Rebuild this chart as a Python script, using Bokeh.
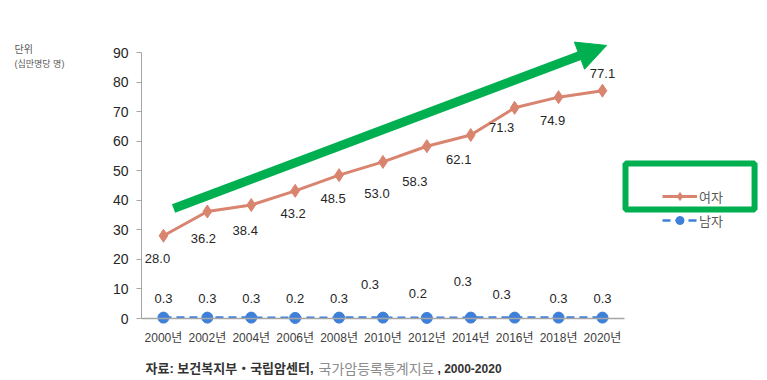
from bokeh.plotting import figure
from bokeh.models import (ColumnDataSource, Label, Legend, LegendItem, Arrow,
                          NormalHead, BoxAnnotation, FixedTicker)
from bokeh.core.properties import value
from bokeh.embed import file_html
from bokeh.resources import INLINE

# ---- data ----
years = [2000, 2002, 2004, 2006, 2008, 2010, 2012, 2014, 2016, 2018, 2020]
tick_labels = ["2000년", "2002년", "2004년", "2006년", "2008년", "2010년",
               "2012년", "2014년", "2016년", "2018년", "2020년"]
women = [28.0, 36.2, 38.4, 43.2, 48.5, 53.0, 58.3, 62.1, 71.3, 74.9, 77.1]
men = [0.3, 0.3, 0.3, 0.2, 0.3, 0.3, 0.2, 0.3, 0.3, 0.3, 0.3]
y_ticks = [0, 10, 20, 30, 40, 50, 60, 70, 80, 90]

# ---- label placement (screen px) ----
women_dx = [-6, -4, -6, -2, -6, -6, -12, -12, -13, -6, 0]
women_dy = [23, 27, 25, 23, 23, 32, 35, 25, 20, 23, -17]
men_dx = [0, 0, 0, 0, 0, -13, -9, -8, -13, 0, 0]
men_dy = [-19, -19, -19, -19, -19, -33, -24, -36, -23, -19, -19]

FONT = "'Liberation Sans', 'Noto Sans CJK KR', sans-serif"
WOMEN_C = "#D9846F"
MEN_C = "#3D7FD9"
GREEN = "#00B050"
AXIS_C = "#A6A6A6"

W, H = 765, 378
X_LO, X_HI = 1999, 2021
X_START, X_END = 1992.576, 2027.428
Y_START, Y_END = -20.30, 107.61

src = ColumnDataSource(dict(
    x=years, women=women, men=men,
    wl=[f"{v:.1f}" for v in women], ml=[f"{v:.1f}" for v in men],
    wdx=women_dx, wdy=women_dy, mdx=men_dx, mdy=men_dy,
))

p = figure(width=W, height=H, x_range=(X_START, X_END), y_range=(Y_START, Y_END),
           output_backend="svg", toolbar_location=None,
           min_border_left=0, min_border_right=0,
           min_border_top=0, min_border_bottom=0)
p.outline_line_color = None
p.xgrid.visible = False
p.ygrid.visible = False

# axes (fixed inside the frame)
p.xaxis.fixed_location = 0
p.xaxis.bounds = (X_LO, X_HI)
p.xaxis.ticker = FixedTicker(ticks=years)
p.xaxis.major_label_overrides = {y: t for y, t in zip(years, tick_labels)}
p.xaxis.major_tick_line_color = None
p.xaxis.minor_tick_line_color = None
p.xaxis.axis_line_color = AXIS_C
p.xaxis.axis_line_width = 1.5
p.xaxis.major_label_standoff = 6
p.xaxis.major_label_text_font = FONT
p.xaxis.major_label_text_font_size = "12px"
p.xaxis.major_label_text_color = "#404040"

p.yaxis.fixed_location = X_LO
p.yaxis.bounds = (0, 90)
p.yaxis.ticker = FixedTicker(ticks=y_ticks)
p.yaxis.axis_line_color = AXIS_C
p.yaxis.axis_line_width = 1
p.yaxis.major_tick_line_color = AXIS_C
p.yaxis.major_tick_out = 5
p.yaxis.major_tick_in = 0
p.yaxis.minor_tick_line_color = None
p.yaxis.major_label_standoff = 8
p.yaxis.major_label_text_font = FONT
p.yaxis.major_label_text_font_size = "14px"
p.yaxis.major_label_text_color = "#262626"

# series
wl = p.line("x", "women", source=src, line_color=WOMEN_C, line_width=3)
ws = p.scatter("x", "women", source=src, marker="diamond", size=13,
               fill_color=WOMEN_C, line_color=WOMEN_C)
ml = p.line("x", "men", source=src, line_color=MEN_C, line_width=2.5,
            line_dash="8 5")
ms = p.scatter("x", "men", source=src, marker="circle", size=11,
               fill_color=MEN_C, line_color=MEN_C)

# data labels
p.text("x", "women", text="wl", source=src, x_offset="wdx", y_offset="wdy",
       text_align="center", text_baseline="middle", text_font=value(FONT),
       text_font_size="13px", text_color="#262626")
p.text("x", "men", text="ml", source=src, x_offset="mdx", y_offset="mdy",
       text_align="center", text_baseline="middle", text_font=value(FONT),
       text_font_size="13px", text_color="#262626")

# green trend arrow
p.add_layout(Arrow(end=NormalHead(size=29, fill_color=GREEN, line_color=GREEN),
                   x_start=2000.46, y_start=37.2, x_end=2020.19, y_end=92.4,
                   line_color=GREEN, line_width=9, line_cap="butt"))

# green highlight box around the legend entry
p.add_layout(BoxAnnotation(left=2021.05, right=2026.93, bottom=36.89, top=52.45,
                           fill_alpha=0, line_color=GREEN, line_width=6,
                           line_alpha=1))

legend = Legend(items=[LegendItem(label="여자", renderers=[wl, ws]),
                       LegendItem(label="남자", renderers=[ml, ms])],
                location=(662, 148), glyph_width=35, glyph_height=20,
                label_height=20, spacing=4, padding=0, margin=0,
                label_standoff=2, border_line_color=None,
                background_fill_alpha=0, label_text_font=FONT,
                label_text_font_size="13px", label_text_color="#595959")
p.add_layout(legend)

# unit title (left of the value axis)
p.add_layout(Label(x=14, y=H - 49, x_units="screen", y_units="screen",
                   text="단위", text_font=FONT, text_font_size="10px",
                   text_baseline="middle", text_color="#595959"))
p.add_layout(Label(x=14, y=H - 63, x_units="screen", y_units="screen",
                   text="(십만명당 명)", text_font=FONT, text_font_size="9px",
                   text_baseline="middle", text_color="#595959"))

# source note
p.add_layout(Label(x=145, y=H - 368, x_units="screen", y_units="screen",
                   text="자료: 보건복지부・국립암센터,", text_font=FONT,
                   text_font_size="13px", text_font_style="bold",
                   text_baseline="middle", text_color="#333333"))
p.add_layout(Label(x=318, y=H - 368, x_units="screen", y_units="screen",
                   text="국가암등록통계지료", text_font=FONT,
                   text_font_size="14px",
                   text_baseline="middle", text_color="#8C8C8C"))
p.add_layout(Label(x=437, y=H - 368, x_units="screen", y_units="screen",
                   text=", 2000-2020", text_font=FONT,
                   text_font_size="12px", text_font_style="bold",
                   text_baseline="middle", text_color="#333333"))

open("out.html", "w").write(file_html(p, INLINE))
